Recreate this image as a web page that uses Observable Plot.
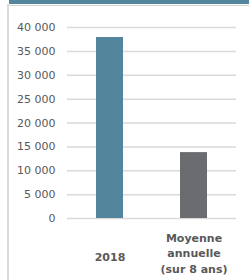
<!DOCTYPE html>
<html>
<head>
<meta charset="utf-8">
<script src="https://cdn.jsdelivr.net/npm/d3@7"></script>
<script src="https://cdn.jsdelivr.net/npm/@observablehq/plot@0.6"></script>
<style>
  html, body { margin: 0; padding: 0; background: #fff; }
  #wrap { position: relative; width: 249px; height: 280px; overflow: hidden; }
  #topbar { position: absolute; left: 9px; top: 0; width: 240px; height: 4px; background: #53859C; }
  #topline { position: absolute; left: 9px; top: 5px; width: 240px; height: 1px; background: #d4d4d4; }
  #leftline { position: absolute; left: 7px; top: 4px; width: 2px; height: 276px; background: #dcdcdc; }
  #chart { position: absolute; left: 0; top: 0; }
</style>
</head>
<body>
<div id="wrap">
  <div id="topbar"></div>
  <div id="topline"></div>
  <div id="leftline"></div>
  <div id="chart"></div>
</div>
<script>
const categories = ["2018", "Moyenne annuelle (sur 8 ans)"];
const labels = ["2018", "Moyenne\nannuelle\n(sur 8 ans)"];
const values = [37900, 13800];
const colors = ["#53859C", "#6A6C6F"];
const yTicks = [0, 5000, 10000, 15000, 20000, 25000, 30000, 35000, 40000];

const data = categories.map((c, i) => ({cat: c, label: labels[i], value: values[i], color: colors[i]}));
const fmt = d => d3.format(",")(d).replace(/,/g, " ");

const chart = Plot.plot({
  width: 249,
  height: 280,
  marginLeft: 67,
  marginRight: 13,
  marginTop: 27,
  marginBottom: 62,
  style: {fontFamily: "'DejaVu Sans', sans-serif", fontSize: "11px", color: "#595959", background: "transparent"},
  x: {domain: categories, paddingInner: 0.68, paddingOuter: 0.34, axis: null},
  y: {domain: [0, 40000], ticks: yTicks, axis: null, label: null},
  marks: [
    Plot.gridY(yTicks, {stroke: "#d9d9d9", strokeOpacity: 1, strokeWidth: 1.5}),
    Plot.axisY(yTicks, {tickSize: 0, tickPadding: 12, tickFormat: fmt, fill: "#595959", fontSize: 11, label: null}),
    Plot.barY(data, {x: "cat", y: "value", fill: "color"}),
    Plot.text(data.filter((d, i) => i === 0), {x: "cat", text: "label", frameAnchor: "bottom", lineAnchor: "middle", dy: 39, fontWeight: "bold", fill: "#595959", fontSize: 11}),
    Plot.text(data.filter((d, i) => i === 1), {x: "cat", text: "label", frameAnchor: "bottom", lineAnchor: "middle", dy: 34, lineHeight: 1.4, fontWeight: "bold", fill: "#595959", fontSize: 11})
  ]
});
document.getElementById("chart").appendChild(chart);
</script>
</body>
</html>
